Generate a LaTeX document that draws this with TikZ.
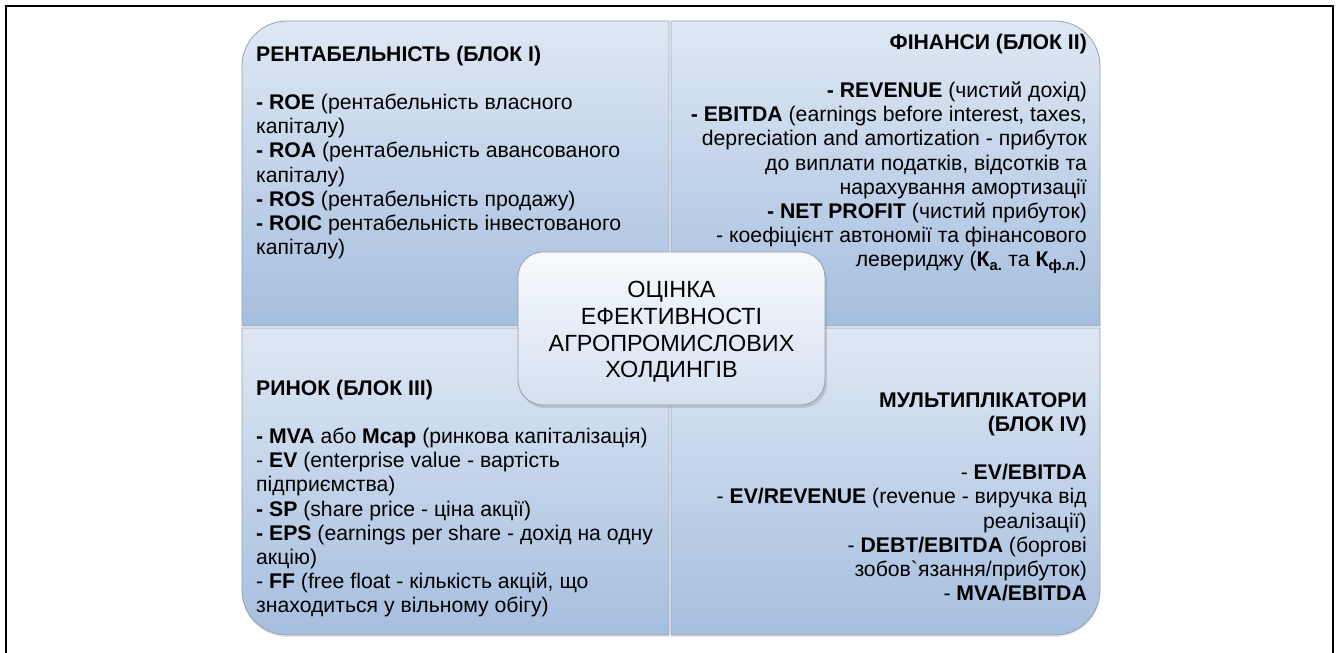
\documentclass[tikz,border=0pt]{standalone}
\usepackage{fontspec}
\setmainfont{Liberation Sans}
\newfontfamily\rawfont{Liberation Sans}
\usetikzlibrary{shadows}

\definecolor{quadtop}{RGB}{222,232,244}
\definecolor{quadbot}{RGB}{166,190,222}
\definecolor{quadline}{RGB}{150,160,178}
\definecolor{coretop}{RGB}{247,250,253}
\definecolor{corebot}{RGB}{212,224,240}

\begin{document}
\begin{tikzpicture}[x=1pt,y=1pt,
  quad/.style={draw=quadline, line width=0.8pt, top color=quadtop, bottom color=quadbot},
  body/.style={inner sep=0pt, font=\fontsize{21.2}{24.2}\selectfont, text=black},
  core/.style={draw=quadline, line width=0.8pt, rounded corners=25pt,
    top color=coretop, bottom color=corebot,
    minimum width=307pt, minimum height=153pt,
    drop shadow={shadow xshift=2pt, shadow yshift=-3pt, opacity=0.3}},
  coretext/.style={inner sep=0pt, align=center, font=\fontsize{23.4}{26.7}\selectfont, text=black},
  frame/.style={line width=2.5pt, draw=black}
]
\useasboundingbox (0,0) rectangle (1336,653);

% outer frame (open at the bottom)
\draw[frame] (6,0) -- (6,647) -- (1333,647) -- (1333,0);

% four blocks, each rounded at its outer corner
\path[quad] (242,327) -- (242,587) arc[start angle=180,end angle=90,radius=45]
  -- (669,632) -- (669,327) -- cycle;
\path[quad] (671,327) -- (671,632) -- (1055,632) arc[start angle=90,end angle=0,radius=45]
  -- (1100,327) -- cycle;
\path[quad, drop shadow={shadow xshift=0pt, shadow yshift=-2pt, opacity=0.2}]
  (242,325) -- (669,325) -- (669,18) -- (287,18) arc[start angle=270,end angle=180,radius=45]
  -- cycle;
\path[quad, drop shadow={shadow xshift=0pt, shadow yshift=-2pt, opacity=0.2}]
  (671,325) -- (1100,325) -- (1100,63) arc[start angle=0,end angle=-90,radius=45]
  -- (671,18) -- cycle;

% block I
\node[body, anchor=north west, align=left] (blockone) at (256,609)
  {\strut\textbf{РЕНТАБЕЛЬНІСТЬ (БЛОК I)}\\[24.2pt]
   \textbf{- ROE} (рентабельність власного\\
   капіталу)\\
   \textbf{- ROA} (рентабельність авансованого\\
   капіталу)\\
   \textbf{- ROS} (рентабельність продажу)\\
   \textbf{- ROIC} рентабельність інвестованого\\
   капіталу)};

% block II
\node[body, anchor=north east, align=right] (blocktwo) at (1087,621)
  {\strut\textbf{ФІНАНСИ (БЛОК II)}\\[24.2pt]
   \textbf{- REVENUE} (чистий дохід)\\
   \textbf{- EBITDA} (earnings before interest, taxes,\\
   depreciation and amortization - прибуток\\
   до виплати податків, відсотків та\\
   нарахування амортизації\\
   \textbf{- NET PROFIT} (чистий прибуток)\\
   - коефіцієнт автономії та фінансового\\
   левериджу (\textbf{К}\textsubscript{\textbf{а.}} та \textbf{К}\textsubscript{\textbf{ф.л.}})};

% block III
\node[body, anchor=north west, align=left] (blockthree) at (256,275)
  {\strut\textbf{РИНОК (БЛОК III)}\\[24.2pt]
   \textbf{- MVA} або \textbf{Mcap} (ринкова капіталізація)\\
   - \textbf{EV} (enterprise value - вартість\\
   підприємства)\\
   \textbf{- SP} (share price - ціна акції)\\
   \textbf{- EPS} (earnings per share - дохід на одну\\
   акцію)\\
   - \textbf{FF} (free float - кількість акцій, що\\
   знаходиться у вільному обігу)};

% block IV
\node[body, anchor=north east, align=right] (blockfour) at (1087,263)
  {\strut\textbf{МУЛЬТИПЛІКАТОРИ}\\
   \textbf{(БЛОК IV)}\\[24.2pt]
   - \textbf{EV/EBITDA}\\
   - \textbf{EV/REVENUE} (revenue - виручка від\\
   реалізації)\\
   - \textbf{DEBT/EBITDA} (боргові\\
   зобов{\rawfont`}язання/прибуток)\\
   - \textbf{MVA/EBITDA}};

% central box
\node[core] (core) at (671.5,324.5) {};
\node[coretext] (coretitle) at (671.5,320.4)
  {\strut ОЦІНКА\\ ЕФЕКТИВНОСТІ\\ АГРОПРОМИСЛОВИХ\\ ХОЛДИНГІВ\strut};
\end{tikzpicture}
\end{document}
